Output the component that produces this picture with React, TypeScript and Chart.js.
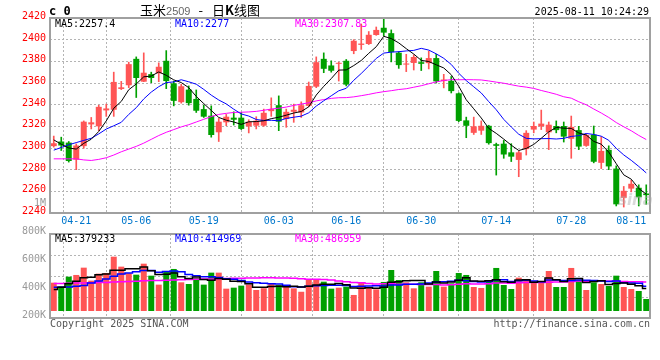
import React, { useEffect, useRef } from 'react';
import { Chart, registerables } from 'chart.js';

Chart.register(...registerables);

// ---------- data ----------
const dates = [
  '04-16', '04-17', '04-18', '04-21', '04-22', '04-23', '04-24', '04-25', '04-28', '04-29',
  '04-30', '05-06', '05-07', '05-08', '05-09', '05-12', '05-13', '05-14', '05-15', '05-16',
  '05-19', '05-20', '05-21', '05-22', '05-23', '05-26', '05-27', '05-28', '05-29', '05-30',
  '06-03', '06-04', '06-05', '06-06', '06-09', '06-10', '06-11', '06-12', '06-13', '06-16',
  '06-17', '06-18', '06-19', '06-20', '06-23', '06-24', '06-25', '06-26', '06-27', '06-30',
  '07-01', '07-02', '07-03', '07-04', '07-07', '07-08', '07-09', '07-10', '07-11', '07-14',
  '07-15', '07-16', '07-17', '07-18', '07-21', '07-22', '07-23', '07-24', '07-25', '07-28',
  '07-29', '07-30', '07-31', '08-01', '08-04', '08-05', '08-06', '08-07', '08-08', '08-11',
];

const opens = [
  2301.7, 2306, 2305, 2289.2, 2301.7, 2321.8, 2320, 2334.7, 2335.3, 2354.5,
  2357.9, 2382.3, 2361.2, 2368.2, 2368.9, 2380.5, 2359.7, 2342.3, 2353.9, 2345.3,
  2335.9, 2329.8, 2314.5, 2323.7, 2328, 2328, 2320, 2320.6, 2320.6, 2334,
  2339.5, 2326.7, 2333.4, 2332.8, 2338.9, 2356.6, 2382.3, 2376.2, 2377.7, 2380.5,
  2389.5, 2395.2, 2396, 2404.3, 2411, 2406, 2388, 2377, 2378.5, 2379.2,
  2378.3, 2383, 2361.8, 2362, 2350.5, 2325.5, 2314, 2316, 2320.5, 2303.5,
  2304, 2296, 2289, 2299, 2317, 2320, 2314.5, 2320.3, 2320.3, 2308.5,
  2316.5, 2302, 2312.3, 2286.3, 2298.3, 2281, 2254, 2262.5, 2263.3, 2258,
];

const closes = [
  2304.4, 2302.3, 2288, 2302.3, 2324.3, 2323.7, 2338, 2336.5, 2361, 2356,
  2377.4, 2364.6, 2369.5, 2364.6, 2375, 2361.8, 2343.5, 2357, 2341.4, 2334.4,
  2328.9, 2312, 2324.3, 2328.9, 2326.1, 2317.6, 2324.3, 2325.2, 2332.5, 2335.9,
  2324.3, 2333.4, 2335.3, 2339.5, 2357.3, 2379.2, 2373.1, 2371.3, 2378.6, 2358.5,
  2399, 2396.4, 2404.5, 2409, 2406.5, 2388.5, 2376.5, 2378, 2384, 2377.7,
  2383, 2361.5, 2363.2, 2352.5, 2325, 2320.5, 2320, 2320.5, 2304.5, 2302,
  2294, 2292, 2296, 2314, 2320.3, 2322.5, 2321.5, 2316.5, 2310.5, 2319.5,
  2301.3, 2312, 2287.3, 2297.3, 2283, 2248, 2260.5, 2267, 2254.5, 2256.5,
];

const highs = [
  2311, 2310, 2306, 2303.8, 2325, 2328.2, 2339.5, 2340.5, 2370, 2361.5,
  2379.2, 2384.1, 2387.8, 2370, 2378.6, 2389.9, 2361.8, 2358.8, 2357.3, 2353.6,
  2339.5, 2338.9, 2327.3, 2331, 2333.4, 2332.8, 2326.1, 2328.9, 2335.9, 2346.3,
  2348.1, 2335.9, 2340.5, 2342.6, 2360.9, 2384.1, 2387.8, 2380.5, 2379.2, 2381.7,
  2400, 2414.5, 2407.5, 2411.7, 2419, 2409, 2389, 2386.5, 2386, 2383.2,
  2389.5, 2386.5, 2368, 2366, 2351, 2328.5, 2328.5, 2325, 2321, 2304.5,
  2307, 2304, 2297, 2316, 2324, 2335, 2324, 2325, 2324, 2329.5,
  2320, 2313, 2320.3, 2310.5, 2302, 2283.5, 2264.5, 2270.2, 2266, 2266,
];

const lows = [
  2300.8, 2297.7, 2287, 2280, 2299.8, 2317.6, 2316, 2329.2, 2329.2, 2353.9,
  2355.7, 2346.6, 2361.2, 2360.3, 2361.2, 2354.8, 2338.9, 2341.4, 2339.5, 2332.8,
  2328.2, 2310, 2306, 2320.6, 2321.2, 2317, 2313.9, 2317.6, 2320, 2329.2,
  2316, 2319.1, 2323.7, 2328.2, 2338.3, 2355.7, 2369.5, 2370, 2361.8, 2357.3,
  2387, 2391, 2395.5, 2404, 2403.5, 2379.5, 2373.5, 2370.5, 2372, 2371.5,
  2373, 2360, 2355.5, 2350.8, 2324.3, 2309.5, 2312.5, 2312.5, 2303.5, 2275,
  2290.5, 2287.5, 2273.5, 2293.5, 2314, 2317, 2298.5, 2314, 2305.5, 2290.5,
  2298.5, 2301.5, 2286.3, 2281, 2280, 2246.5, 2245.5, 2259.5, 2246.5, 2248,
];

const ma5 = [
  2307.5, 2303.5, 2300, 2299, 2304.3, 2308.1, 2315.3, 2325, 2336.7, 2343,
  2353.8, 2359.1, 2365.7, 2366.4, 2370.2, 2367.1, 2362.9, 2360.4, 2355.7, 2347.6,
  2341, 2334.7, 2328.2, 2325.7, 2324, 2321.8, 2324.2, 2324.4, 2325.1, 2327.1,
  2328.4, 2330.3, 2332.3, 2333.7, 2338, 2348.9, 2356.9, 2364.1, 2371.9, 2372.1,
  2376.1, 2380.8, 2387.4, 2393.5, 2403.1, 2401, 2397, 2391.7, 2386.7, 2380.9,
  2379.8, 2376.8, 2373.9, 2367.6, 2357, 2344.5, 2336.2, 2327.7, 2318.1, 2313.5,
  2308.2, 2302.6, 2297.7, 2299.6, 2303.3, 2309, 2314.9, 2319, 2318.3, 2318.1,
  2313.9, 2312, 2306.1, 2303.5, 2296.2, 2285.5, 2275.2, 2271.2, 2262.6, 2257.4,
];

const ma10 = [
  2298, 2300.5, 2303, 2305, 2307, 2309, 2313, 2317.5, 2320.5, 2323.7,
  2331, 2337.2, 2345.3, 2351.6, 2356.6, 2360.4, 2361, 2363, 2361.1, 2358.9,
  2354.1, 2348.8, 2344.3, 2340.7, 2335.8, 2331.4, 2329.5, 2326.3, 2325.4, 2325.6,
  2325.1, 2327.3, 2328.4, 2329.4, 2332.5, 2338.7, 2343.6, 2348.2, 2352.8, 2355.1,
  2362.5, 2368.8, 2375.7, 2382.7, 2387.6, 2388.5, 2388.9, 2389.6, 2390.1, 2392,
  2390.4, 2386.9, 2382.8, 2377.1, 2369, 2362.2, 2356.5, 2350.8, 2342.8, 2335.3,
  2326.4, 2319.4, 2312.7, 2308.9, 2308.4, 2308.6, 2308.7, 2308.3, 2308.9, 2310.7,
  2311.4, 2313.4, 2312.5, 2310.9, 2307.1, 2299.7, 2293.6, 2288.6, 2283, 2277,
];

const ma30 = [
  2290, 2290, 2290, 2290, 2289, 2288.5, 2289.5, 2291, 2293.5, 2296.5,
  2299, 2301.5, 2304.5, 2308, 2311.5, 2314.5, 2317, 2319.5, 2321.5, 2324,
  2326.5, 2329, 2331, 2332, 2332.8, 2333, 2333.3, 2333.8, 2334.8, 2336,
  2336.7, 2337.8, 2339.3, 2340.6, 2341.7, 2343.5, 2344.7, 2345.8, 2346.4, 2346.5,
  2347.2, 2348.3, 2349.5, 2350.9, 2352, 2352.9, 2354, 2354.7, 2356.1, 2357.5,
  2359.3, 2361, 2362.3, 2363.1, 2363, 2363.1, 2363, 2362.8, 2361.9, 2360.8,
  2359.8, 2358.4, 2357.1, 2356.2, 2355, 2353.1, 2351.4, 2349.6, 2347.3, 2346,
  2342.7, 2339.9, 2336, 2332.3, 2328.2, 2323.5, 2319.6, 2315.9, 2311.6, 2307.8,
];

// volume, thousands of lots
const volumes = [
  477, 415, 578, 607, 730, 511, 629, 640, 915, 747,
  635, 612, 797, 595, 444, 657, 708, 483, 455, 556,
  444, 646, 646, 376, 393, 427, 447, 354, 384, 458,
  435, 421, 382, 324, 522, 539, 494, 376, 393, 410,
  270, 477, 399, 365, 489, 691, 522, 483, 382, 483,
  410, 674, 410, 466, 640, 607, 404, 388, 506, 725,
  438, 371, 562, 539, 506, 506, 674, 404, 404, 725,
  522, 354, 483, 455, 421, 595, 404, 371, 337, 202,
];

const volMa5 = [
  360, 400, 460, 500, 561.4, 568.2, 611, 623.4, 685, 688.4,
  713.2, 709.8, 741.2, 677.2, 616.6, 621, 640.2, 577.4, 549.4, 571.8,
  529.2, 516.8, 549.4, 533.6, 501, 497.6, 457.8, 399.4, 401, 414,
  415.6, 410.4, 416, 404, 416.8, 437.6, 452.2, 451, 464.8, 442.4,
  388.6, 385.2, 389.8, 384.2, 400, 484.2, 493.2, 510, 513.4, 512.2,
  456, 486.4, 471.8, 488.6, 520, 559.4, 505.4, 501, 509, 526,
  492.2, 485.6, 520.4, 527, 483.2, 496.8, 557.4, 525.8, 498.8, 542.6,
  545.8, 481.8, 497.6, 507.8, 447, 461.6, 471.6, 449.2, 425.6, 379.2,
];

const volMa10 = [
  400, 400, 405, 415, 430, 470, 505, 540, 585, 624.9,
  640.7, 660.4, 682.3, 681.1, 652.5, 667.1, 675, 659.3, 613.3, 594.2,
  575.1, 578.5, 563.4, 541.5, 536.4, 513.4, 487.3, 474.4, 467.3, 457.5,
  456.6, 434.1, 407.7, 402.5, 415.4, 426.6, 431.3, 433.5, 434.4, 429.6,
  413.1, 418.7, 420.4, 424.5, 421.2, 436.4, 439.2, 449.9, 448.8, 456.1,
  470.1, 489.8, 490.9, 501, 516.1, 507.7, 495.9, 486.4, 498.8, 523,
  525.8, 495.5, 510.7, 518, 504.6, 494.5, 521.5, 523.1, 512.9, 512.9,
  521.3, 519.6, 511.7, 503.3, 494.8, 503.7, 476.7, 473.4, 466.7, 415,
];

const volMa30 = [
  462, 465, 468, 470, 472, 475, 478, 482, 488, 492,
  497, 502, 508, 512, 515, 519, 524, 528, 531, 534,
  537, 541, 545, 548, 551, 553, 555, 557, 558, 558.9,
  557.5, 557.7, 551.1, 541.7, 534.8, 535.7, 531.2, 522.4, 505, 493.8,
  481.6, 477.1, 463.8, 456.2, 457.7, 458.8, 452.6, 452.6, 450.2, 447.7,
  446.6, 447.5, 439.7, 442.7, 450.9, 456.9, 455.5, 456.6, 460.7, 469.6,
  469.7, 468, 474, 481.2, 480.6, 479.5, 485.5, 486.5, 486.8, 497.3,
  505.7, 501.6, 504.4, 507.4, 505.2, 502, 498, 494.3, 492.8, 487,
];

const dateTicks = ['04-21', '05-06', '05-19', '06-03', '06-16', '06-30', '07-14', '07-28', '08-11'];
const volLabelTicks = [1000, 800, 600, 400, 200];

const priceLegend = [
  { text: 'MA5:2257.4', color: '#000000' },
  { text: 'MA10:2277', color: '#0000ff' },
  { text: 'MA30:2307.83', color: '#ff00ff' },
];
const volumeLegend = [
  { text: 'MA5:379233', color: '#000000' },
  { text: 'MA10:414969', color: '#0000ff' },
  { text: 'MA30:486959', color: '#ff00ff' },
];

// ---------- styles ----------
const RED = '#ff5555';
const GREEN = '#00a000';
const GRID = '#b4b4b4';
const FRAME = '#a0a0a0';
const MONO = '"DejaVu Sans Mono", monospace';
const CJK = '"Noto Sans CJK SC", sans-serif';
const lastIndex = dates.length - 1;
const isUp = (i: number) => closes[i] >= opens[i];

const framePlugin = {
  id: 'frame',
  afterDraw(chart: any) {
    const { ctx, chartArea: a } = chart;
    ctx.save();
    ctx.strokeStyle = FRAME;
    ctx.lineWidth = 2;
    ctx.strokeRect(a.left, a.top, a.right - a.left, a.bottom - a.top);
    ctx.restore();
  },
};

const makeX = (showLabels: boolean) => ({
  type: 'linear',
  min: -0.5,
  max: lastIndex + 0.5,
  offset: false,
  afterBuildTicks: (s: any) => {
    s.ticks = [{ value: -0.5 }, ...dateTicks.map((d) => ({ value: dates.indexOf(d) }))];
  },
  ticks: showLabels
    ? {
        callback: (v: number) => dates[v] ?? '',
        color: '#0077cc',
        font: { family: MONO, size: 10 },
        padding: 2,
        align: 'inner',
        maxRotation: 0,
        autoSkip: false,
      }
    : { display: false },
  grid: {
    color: (c: any) => (c.tick && c.tick.value > 0 && c.tick.value < lastIndex ? GRID : 'transparent'),
    drawTicks: false,
  },
  border: { display: false, dash: [2, 2] },
  afterFit: showLabels ? (s: any) => { s.height = 17; } : (s: any) => { s.height = 0; },
});

const lineDs = (label: string, values: number[], color: string, width: number, yAxisID: string, stepped: any = false) => ({
  type: 'line',
  label,
  data: values.map((v, i) => ({ x: i, y: v })),
  borderColor: color,
  borderWidth: width,
  pointRadius: 0,
  tension: 0,
  stepped,
  yAxisID,
  order: 1,
});

function PriceChart() {
  const ref = useRef<HTMLCanvasElement>(null);
  useEffect(() => {
    const chart = new Chart(ref.current as HTMLCanvasElement, {
      type: 'bar',
      data: {
        datasets: [
          lineDs('MA5', ma5, '#000000', 1, 'y'),
          lineDs('MA10', ma10, '#0000ff', 1, 'y'),
          lineDs('MA30', ma30, '#ff00ff', 1, 'y'),
          {
            type: 'bar',
            label: 'body',
            data: opens.map((o, i) => ({ x: i, y: [o, closes[i]] })),
            backgroundColor: (c: any) => (isUp(c.dataIndex) ? RED : GREEN),
            grouped: false,
            categoryPercentage: 1,
            barPercentage: 0.8,
            minBarLength: 1,
            order: 2,
          },
          {
            type: 'bar',
            label: 'wick',
            data: lows.map((l, i) => ({ x: i, y: [l, highs[i]] })),
            backgroundColor: (c: any) => (isUp(c.dataIndex) ? RED : GREEN),
            grouped: false,
            categoryPercentage: 1,
            barPercentage: 1,
            maxBarThickness: 1,
            order: 3,
          },
        ] as any,
      },
      options: {
        responsive: false,
        animation: false,
        devicePixelRatio: 1,
        events: [],
        layout: { padding: { top: 18, right: 10, left: 0, bottom: 0 } },
        plugins: { legend: { display: false }, tooltip: { enabled: false } },
        scales: {
          x: makeX(true) as any,
          y: {
            type: 'linear',
            min: 2240,
            max: 2420,
            ticks: {
              stepSize: 20,
              callback: (v: number) => String(v),
              color: '#ff0000',
              font: { family: MONO, size: 10 },
              padding: 4,
              labelOffset: -1.5,
              autoSkip: false,
            },
            grid: {
              color: (c: any) => (c.tick && c.tick.value > 2240 && c.tick.value < 2420 ? GRID : 'transparent'),
              drawTicks: false,
            },
            border: { display: false, dash: [2, 2] },
            afterFit: (s: any) => { s.width = 50; },
          } as any,
        },
      },
      plugins: [framePlugin],
    });
    return () => chart.destroy();
  }, []);
  return <canvas ref={ref} width={660} height={230} style={{ position: 'absolute', left: 0, top: 0, width: 660, height: 230 }} />;
}

function VolumeChart() {
  const ref = useRef<HTMLCanvasElement>(null);
  useEffect(() => {
    const chart = new Chart(ref.current as HTMLCanvasElement, {
      type: 'bar',
      data: {
        datasets: [
          lineDs('MA5', volMa5, '#000000', 1.5, 'y', 'middle'),
          lineDs('MA10', volMa10, '#0000ff', 1.5, 'y', 'middle'),
          lineDs('MA30', volMa30, '#ff00ff', 1.5, 'y', 'middle'),
          {
            type: 'bar',
            label: 'volume',
            data: volumes.map((v, i) => ({ x: i, y: v })),
            backgroundColor: (c: any) => (isUp(c.dataIndex) ? RED : GREEN),
            grouped: false,
            categoryPercentage: 1,
            barPercentage: 0.8,
            yAxisID: 'y',
            order: 2,
          },
        ] as any,
      },
      options: {
        responsive: false,
        animation: false,
        devicePixelRatio: 1,
        events: [],
        layout: { padding: { top: 44, right: 10, left: 0, bottom: 22 } },
        plugins: { legend: { display: false }, tooltip: { enabled: false } },
        scales: {
          x: makeX(false) as any,
          y: { type: 'linear', min: -118, max: 1297, display: false } as any,
          yl: {
            type: 'linear',
            position: 'left',
            min: 180,
            max: 780,
            afterBuildTicks: (s: any) => {
              s.ticks = volLabelTicks.map((v) => ({ value: v }));
            },
            ticks: {
              callback: (v: number) => (v >= 1000 ? v / 1000 + 'M' : v + 'K'),
              color: '#999999',
              font: { family: MONO, size: 10 },
              padding: 4,
              autoSkip: false,
            },
            grid: { display: false, drawTicks: false },
            border: { display: false },
            afterFit: (s: any) => { s.width = 50; },
          } as any,
          yg: {
            type: 'linear',
            position: 'left',
            min: 0,
            max: 4,
            ticks: { display: false, stepSize: 1 },
            grid: {
              color: (c: any) => (c.tick && c.tick.value > 0 && c.tick.value < 4 ? GRID : 'transparent'),
              drawTicks: false,
            },
            border: { display: false, dash: [2, 2] },
            afterFit: (s: any) => { s.width = 0; },
          } as any,
        },
      },
      plugins: [framePlugin],
    });
    return () => chart.destroy();
  }, []);
  return <canvas ref={ref} width={660} height={150} style={{ position: 'absolute', left: 0, top: 190, width: 660, height: 150 }} />;
}

function Txt(props: any) {
  const { x, right, cy, size = 10, color = '#000', family = MONO, weight = 'normal', style = {}, children } = props;
  const lh = Math.round(size * 1.25);
  const pos = right !== undefined ? { right } : { left: x };
  return (
    <div
      style={{
        position: 'absolute',
        top: cy - lh / 2,
        ...pos,
        color,
        fontFamily: family,
        fontSize: size,
        fontWeight: weight,
        lineHeight: lh + 'px',
        whiteSpace: 'nowrap',
        ...style,
      }}
    >
      {children}
    </div>
  );
}

export default function App() {
  return (
    <div style={{ position: 'absolute', left: 0, top: 0, width: 660, height: 360, background: '#ffffff', overflow: 'hidden' }}>
      <PriceChart />
      <VolumeChart />
      <Txt x={49} cy={11} size={12} weight="bold">c 0</Txt>
      <Txt x={140} cy={10} size={13} family={CJK}>
        玉米
        <span style={{ fontFamily: '"Liberation Sans", sans-serif', fontSize: 11, color: '#666' }}>2509</span>
        <span style={{ margin: '0 9px 0 8px' }}>-</span>
        日<b>K</b>线图
      </Txt>
      <Txt right={11} cy={11}>2025-08-11 10:24:29</Txt>
      {priceLegend.map((l, i) => (
        <Txt key={'p' + i} x={55 + i * 120} cy={23.5} color={l.color}>{l.text}</Txt>
      ))}
      {volumeLegend.map((l, i) => (
        <Txt key={'v' + i} x={55 + i * 120} cy={238.5} color={l.color}>{l.text}</Txt>
      ))}
      <Txt x={618} cy={200} size={15} color="rgba(170,170,170,0.45)" family='"DejaVu Sans", sans-serif' weight="bold" style={{ fontStyle: 'italic' }}>sina</Txt>
      <Txt x={50} cy={323.5} color="#555555">Copyright 2025 SINA.COM</Txt>
      <Txt right={10} cy={323.5} color="#555555">http://finance.sina.com.cn</Txt>
    </div>
  );
}
